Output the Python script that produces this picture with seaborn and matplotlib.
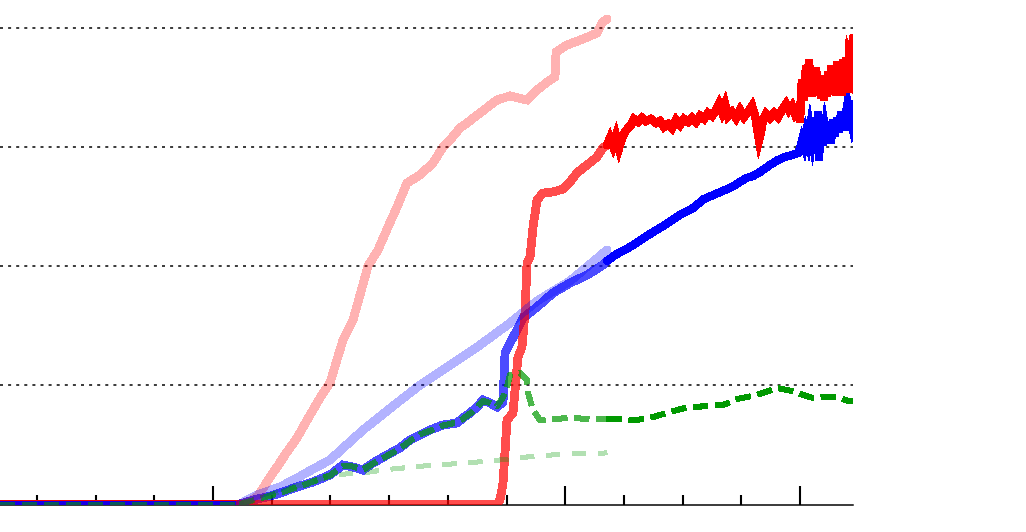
import matplotlib
matplotlib.use("Agg")
import matplotlib.pyplot as plt
import seaborn as sns
import pandas as pd

# ---------------- data ----------------
# phase 0: flat start (all series at zero)
flat_x = [-0.63, 3.458]
flat_y = [0.0, 0.0]

# light (reference) series
ref_red_x = [3.458, 3.629, 3.765, 3.918, 4.089, 4.259, 4.429, 4.651, 4.821, 4.991, 5.213, 5.383,
             5.503, 5.639, 5.809, 5.980, 6.133, 6.303, 6.525, 6.746, 6.917, 7.036, 7.206, 7.325,
             7.547, 7.836, 8.058, 8.348, 8.518, 8.739, 8.825, 8.842, 9.029, 9.302, 9.540, 9.625, 9.710]
ref_red_y = [0.000, 0.025, 0.067, 0.185, 0.311, 0.437, 0.555, 0.748, 0.891, 1.017, 1.378, 1.546,
             1.756, 2.000, 2.134, 2.328, 2.496, 2.697, 2.765, 2.866, 3.000, 3.059, 3.160, 3.202,
             3.286, 3.395, 3.429, 3.395, 3.479, 3.563, 3.588, 3.798, 3.857, 3.908, 3.958, 4.042, 4.076]

ref_blue_x = [3.458, 3.748, 4.140, 4.429, 4.702, 4.991, 5.554, 6.133, 6.525, 6.985, 7.547, 8.058,
              8.518, 9.080, 9.710]
ref_blue_y = [0.000, 0.076, 0.143, 0.218, 0.294, 0.370, 0.622, 0.849, 1.000, 1.151, 1.336, 1.521,
              1.706, 1.874, 2.134]

ref_green_x = [3.458, 3.969, 4.361, 4.702, 4.991, 5.554, 5.894, 6.576, 7.325, 7.888, 8.348, 8.961, 9.710]
ref_green_y = [0.000, 0.076, 0.143, 0.185, 0.244, 0.261, 0.286, 0.319, 0.345, 0.370, 0.395, 0.420, 0.429]

# phase 1 series (medium)
mid_red_x = [3.458, 7.836, 7.888, 7.939, 8.007, 8.109, 8.194, 8.262, 8.313, 8.348, 8.399, 8.450,
             8.518, 8.620, 8.790, 8.961, 9.080, 9.199, 9.370, 9.540, 9.642, 9.710]
mid_red_y = [0.000, 0.000, 0.034, 0.176, 0.706, 0.765, 1.235, 1.319, 1.605, 2.025, 2.076, 2.328,
             2.555, 2.613, 2.622, 2.647, 2.706, 2.782, 2.849, 2.916, 2.992, 3.017]

mid_blue_x = [3.458, 3.748, 3.918, 4.140, 4.429, 4.702, 4.991, 5.213, 5.383, 5.554, 5.724, 5.963,
              6.184, 6.354, 6.525, 6.695, 6.917, 7.155, 7.257, 7.376, 7.496, 7.598, 7.717, 7.836,
              7.939, 7.973, 8.058, 8.177, 8.279, 8.518, 8.790, 9.080, 9.370, 9.642, 9.710]
mid_blue_y = [0.000, 0.042, 0.059, 0.092, 0.143, 0.185, 0.244, 0.328, 0.311, 0.286, 0.345, 0.412,
              0.471, 0.538, 0.580, 0.622, 0.664, 0.681, 0.723, 0.765, 0.815, 0.874, 0.849, 0.815,
              0.857, 1.269, 1.353, 1.462, 1.563, 1.655, 1.773, 1.857, 1.924, 2.008, 2.042]

mid_green_x = [3.458, 3.748, 3.918, 4.140, 4.429, 4.702, 4.991, 5.213, 5.383, 5.554, 5.724, 5.963,
               6.184, 6.354, 6.525, 6.695, 6.917, 7.155, 7.257, 7.376, 7.496, 7.598, 7.717, 7.836,
               7.939, 8.007, 8.058, 8.228, 8.348, 8.365, 8.450, 8.569, 8.790, 9.080, 9.421, 9.710]
mid_green_y = [0.000, 0.040, 0.062, 0.095, 0.140, 0.188, 0.240, 0.320, 0.315, 0.290, 0.340, 0.405,
               0.465, 0.530, 0.585, 0.615, 0.660, 0.685, 0.715, 0.760, 0.810, 0.865, 0.850, 0.820,
               0.899, 0.983, 1.084, 1.101, 1.042, 0.933, 0.790, 0.706, 0.714, 0.723, 0.714, 0.714]

# phase 2 series (full)
full_red_x = [9.710, 9.761, 9.813, 9.864, 9.915, 9.966, 10.017, 10.068, 10.119, 10.170, 10.239,
              10.307, 10.375, 10.460, 10.545, 10.613, 10.681, 10.750, 10.818, 10.886, 10.954, 11.022,
              11.090, 11.158, 11.227, 11.295, 11.363, 11.431, 11.499, 11.567, 11.618, 11.670, 11.721,
              11.772, 11.840, 11.908, 11.976, 12.044, 12.112, 12.181, 12.232, 12.266, 12.300, 12.334,
              12.368, 12.419, 12.487, 12.555, 12.624, 12.692, 12.760, 12.811, 12.862, 12.913, 12.964,
              12.998, 13.015, 13.032, 13.066, 13.101, 13.118, 13.152, 13.169, 13.203, 13.220, 13.254,
              13.271, 13.305, 13.322, 13.356, 13.373, 13.407, 13.424, 13.458, 13.475, 13.509, 13.526,
              13.560, 13.577, 13.612, 13.629, 13.663, 13.680, 13.714, 13.731, 13.765, 13.782, 13.816,
              13.833, 13.867, 13.884, 13.901]
full_red_y = [3.017, 3.076, 3.008, 3.092, 2.992, 3.076, 3.126, 3.160, 3.185, 3.235, 3.210,
              3.244, 3.218, 3.235, 3.202, 3.218, 3.168, 3.193, 3.160, 3.227, 3.185, 3.235,
              3.210, 3.244, 3.210, 3.261, 3.235, 3.286, 3.261, 3.311, 3.361, 3.294, 3.361,
              3.261, 3.294, 3.244, 3.311, 3.252, 3.294, 3.345, 3.269, 3.160, 3.059, 3.126,
              3.227, 3.277, 3.244, 3.286, 3.252, 3.311, 3.361, 3.311, 3.345, 3.277, 3.311,
              3.210, 3.437, 3.563, 3.395, 3.681, 3.462, 3.731, 3.521, 3.429, 3.630, 3.479,
              3.664, 3.437, 3.580, 3.412, 3.597, 3.395, 3.563, 3.429, 3.630, 3.445, 3.681,
              3.479, 3.647, 3.437, 3.714, 3.496, 3.664, 3.437, 3.731, 3.521, 3.748, 3.462,
              3.714, 3.647, 3.832, 3.916]

full_blue_x = [9.710, 9.847, 10.102, 10.443, 10.698, 10.954, 11.175, 11.363, 11.601, 11.721, 11.840,
               11.976, 12.078, 12.198, 12.317, 12.487, 12.624, 12.743, 12.862, 12.964, 12.998, 13.032,
               13.066, 13.101, 13.135, 13.169, 13.203, 13.237, 13.271, 13.305, 13.322, 13.356, 13.390,
               13.424, 13.458, 13.492, 13.526, 13.560, 13.594, 13.629, 13.663, 13.697, 13.731, 13.765,
               13.799, 13.833, 13.867, 13.901]
full_blue_y = [2.042, 2.092, 2.160, 2.269, 2.345, 2.429, 2.487, 2.563, 2.613, 2.639, 2.664,
               2.706, 2.739, 2.756, 2.790, 2.849, 2.891, 2.916, 2.933, 2.950, 2.992, 3.059,
               3.008, 3.109, 3.042, 3.160, 3.059, 3.193, 3.076, 3.294, 2.891, 3.227, 3.017,
               3.160, 3.059, 3.210, 3.034, 3.227, 3.092, 3.244, 3.126, 3.294, 3.143, 3.244,
               3.143, 3.311, 3.227, 3.361]

full_green_x = [9.710, 9.847, 10.221, 10.494, 10.784, 11.039, 11.414, 11.687, 11.925, 12.181, 12.368,
                12.606, 12.862, 13.049, 13.220, 13.424, 13.646, 13.816, 13.901]
full_green_y = [0.714, 0.714, 0.706, 0.731, 0.773, 0.807, 0.824, 0.832, 0.882, 0.908, 0.933,
                0.975, 0.950, 0.916, 0.891, 0.899, 0.899, 0.866, 0.866]

minor_ticks = [0, 1, 2, 4, 5, 6, 7, 8, 10, 11, 12]
major_ticks = [3, 9, 13]
grid_levels = [1, 2, 3, 4]

# ---------------- plot ----------------
sns.set_theme(style="white")
plt.rcParams['font.family'] = ['DejaVu Sans']

W, H = 1026, 532
fig = plt.figure(figsize=(W / 100, H / 100), dpi=100)
ax = fig.add_axes([0, 27 / H, 853 / W, 505 / H])

RED, BLUE, GREEN = "#ff0000", "#0000ff", "#009900"
LW = 5.6
DASH = (0, (2.7, 1.4))


def line(x, y, color, alpha=1.0, lw=LW, ls="-", z=3):
    df = pd.DataFrame({"x": x, "y": y})
    sns.lineplot(data=df, x="x", y="y", ax=ax, color=color, alpha=alpha, linewidth=lw,
                 linestyle=ls, estimator=None, sort=False, zorder=z, antialiased=False,
                 solid_joinstyle="miter", legend=False)


# phase 0
line(flat_x, flat_y, RED, 1.0, lw=5.6, z=3)
line(flat_x, flat_y, BLUE, 0.9, lw=3.8, z=3.1)
line(flat_x, flat_y, GREEN, 0.6, lw=3.8, ls=DASH, z=3.2)

# phase 1 (medium)
line(mid_blue_x, mid_blue_y, BLUE, 0.7, z=3.3)
line(mid_red_x, mid_red_y, RED, 0.7, z=3.4)
line(mid_green_x, mid_green_y, GREEN, 0.7, lw=3.8, ls=DASH, z=3.5)

# light reference series
line(ref_red_x, ref_red_y, RED, 0.3, z=3.6)
line(ref_blue_x, ref_blue_y, BLUE, 0.3, z=3.6)
line(ref_green_x, ref_green_y, GREEN, 0.3, lw=3.2, ls=(0, (3.0, 2.8)), z=3.6)

# phase 2 (full)
line(full_blue_x, full_blue_y, BLUE, 1.0, lw=5.2, z=3.7)
line(full_red_x, full_red_y, RED, 1.0, lw=5.4, z=3.7)
line(full_green_x, full_green_y, GREEN, 1.0, lw=3.8, ls=DASH, z=3.7)

ax.set_xlim(-0.630, 13.901)
ax.set_ylim(-1 / 119, 504 / 119)

for lv in grid_levels:
    ax.axhline(lv, color="black", linewidth=1.08, linestyle=(0, (2.0, 3.4)), zorder=1)

ax.set_xticks(major_ticks)
ax.set_xticks(minor_ticks, minor=True)
ax.set_yticks([])
ax.tick_params(axis="x", which="major", bottom=True, direction="in", length=13.7, width=1.5,
               color="black", labelbottom=False)
ax.tick_params(axis="x", which="minor", bottom=True, direction="in", length=7.2, width=1.5,
               color="black", labelbottom=False)
ax.set_xlabel("")
ax.set_ylabel("")

for s in ["left", "top", "right"]:
    ax.spines[s].set_visible(False)
ax.spines["bottom"].set_color("black")
ax.spines["bottom"].set_linewidth(1.08)
ax.spines["bottom"].set_zorder(2)
ax.set_facecolor("white")
fig.patch.set_facecolor("white")

fig.savefig("out.png", dpi=100, facecolor="white")
